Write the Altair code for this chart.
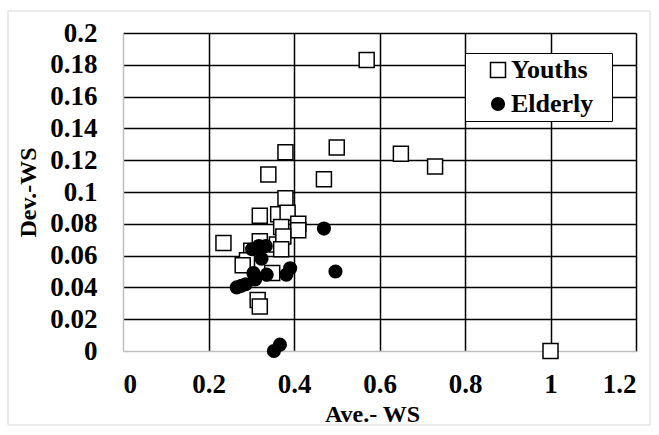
import altair as alt
import pandas as pd

youths_x = [1.00, 0.57, 0.65, 0.73, 0.50, 0.38, 0.34, 0.47, 0.38, 0.32, 0.363, 0.385,
            0.37, 0.41, 0.41, 0.235, 0.32, 0.36, 0.375, 0.37, 0.30, 0.29, 0.28, 0.349,
            0.315, 0.32]
youths_y = [0.000, 0.183, 0.124, 0.116, 0.128, 0.125, 0.111, 0.108, 0.096, 0.085, 0.086, 0.087,
            0.078, 0.080, 0.076, 0.068, 0.069, 0.067, 0.072, 0.064, 0.063, 0.057, 0.054, 0.049,
            0.032, 0.028]

elderly_x = [0.47, 0.497, 0.391, 0.382, 0.336, 0.305, 0.309, 0.287, 0.266, 0.277,
             0.324, 0.318, 0.334, 0.302, 0.367, 0.353]
elderly_y = [0.077, 0.050, 0.052, 0.048, 0.048, 0.049, 0.045, 0.042, 0.040, 0.041,
             0.058, 0.066, 0.066, 0.064, 0.004, 0.000]

groups = ["Youths", "Elderly"]
x_ticks = [0, 0.2, 0.4, 0.6, 0.8, 1.0, 1.2]
y_ticks = [0, 0.02, 0.04, 0.06, 0.08, 0.1, 0.12, 0.14, 0.16, 0.18, 0.2]

df = pd.concat([
    pd.DataFrame({"ave": youths_x, "dev": youths_y, "group": "Youths"}),
    pd.DataFrame({"ave": elderly_x, "dev": elderly_y, "group": "Elderly"}),
], ignore_index=True)

FONT = "Liberation Serif"
LBL = 27

legend = alt.Legend(
    title=".", titleOrient="right", titleColor="white",
    titleFontSize=11, titlePadding=12,
    orient="none", legendX=342, legendY=20,
    strokeColor="black", fillColor="white", padding=4,
    symbolOffset=16, labelOffset=0, rowPadding=8,
)

grid_op = alt.condition("datum.value === 0", alt.value(0), alt.value(1))

points = alt.Chart(df).mark_point(
    filled=True, stroke="black", strokeWidth=1.5, opacity=1
).encode(
    x=alt.X("ave:Q", scale=alt.Scale(domain=[0, 1.2], nice=False),
            axis=alt.Axis(values=x_ticks, format="~g", title="Ave.- WS",
                          gridOpacity=grid_op, labelPadding=20,
                          labelFont=FONT, labelFontSize=LBL, labelFontWeight="bold",
                          titleX=249, titleY=63)),
    y=alt.Y("dev:Q", scale=alt.Scale(domain=[0, 0.2], nice=False),
            axis=alt.Axis(values=y_ticks, format="~g", title="Dev.-WS",
                          gridOpacity=grid_op, labelPadding=26,
                          labelFont=FONT, labelFontSize=LBL, labelFontWeight="bold",
                          titleX=-95, titleY=159, titleAngle=-90)),
    shape=alt.Shape("group:N", scale=alt.Scale(domain=groups, range=["square", "circle"]),
                    legend=legend),
    fill=alt.Fill("group:N", scale=alt.Scale(domain=groups, range=["white", "black"]),
                  legend=legend),
    size=alt.Size("group:N", scale=alt.Scale(domain=groups, range=[225, 160]),
                  legend=legend),
    order=alt.Order("order:Q"),
).transform_calculate(order="datum.group === 'Youths' ? 0 : 1")

frame = alt.Chart(pd.DataFrame({"a": [0]})).mark_rect(
    fill=None, stroke="#d9d9d9", strokeWidth=1, clip=False
).encode(x=alt.value(-115), x2=alt.value(527), y=alt.value(-22), y2=alt.value(392))

chart = alt.layer(frame, points).properties(
    width=513, height=318,
    padding={"left": 123, "top": 33, "right": 23, "bottom": 84},
    autosize=alt.AutoSizeParams(type="none"),
).configure(
    background="white", font=FONT
).configure_view(
    stroke=None
).configure_axis(
    grid=True, gridColor="black", gridWidth=1.5,
    domainColor="#bfbfbf", domainWidth=1.5, ticks=False,
    labelFont=FONT, labelFontSize=LBL, labelFontWeight="bold", labelColor="black",
    titleFont=FONT, titleFontSize=24, titleFontWeight="bold", titleColor="black",
    titleBaseline="middle", titleAlign="center",
).configure_legend(
    labelFont=FONT, labelFontSize=26, labelFontWeight="bold", labelColor="black",
)

chart.save("out.html", embed_options={"renderer": "svg", "actions": False})
